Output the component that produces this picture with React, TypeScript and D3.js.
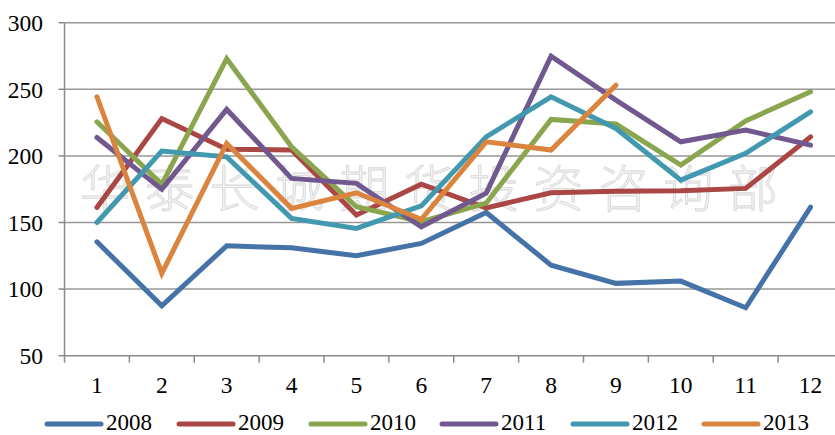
import React from "react";
import * as d3 from "d3";

const months = ["1", "2", "3", "4", "5", "6", "7", "8", "9", "10", "11", "12"];
const yTicks = [50, 100, 150, 200, 250, 300];
const seriesNames = ["2008", "2009", "2010", "2011", "2012", "2013"];
const seriesColors = ["#4572A7", "#AA4643", "#89A54E", "#71588F", "#4198AF", "#DB843D"];

const s2008 = [135.5, 87.5, 132.5, 131, 125, 134.3, 157.5, 118, 104.3, 106, 86, 161.5];
const s2009 = [161.3, 228, 205, 204.5, 155.6, 178.7, 161, 172.3, 173.5, 173.8, 175.6, 214.3];
const s2010 = [225.6, 178.6, 273, 206.8, 161.8, 150.6, 164.5, 227.4, 223.9, 193.1, 226.3, 248.1];
const s2011 = [213.8, 174.9, 234.9, 183.1, 179.4, 146.8, 172, 274.9, 241.9, 210.6, 219.4, 208.1];
const s2012 = [150, 203.6, 199.3, 153.1, 145.6, 162.5, 214.3, 244.4, 220.6, 181.8, 201.9, 233.1];
const s2013 = [244.4, 111.8, 209.4, 160.6, 172.3, 152.4, 210.6, 204.4, 253.1];

const seriesData = [s2008, s2009, s2010, s2011, s2012, s2013];

const W = 835;
const H = 435;
const left = 64.5;
const right = 843;
const top = 22.7;
const bottom = 355.7;

export default function App() {
  const x = d3.scaleBand<string>().domain(months).range([left, right]).padding(0);
  const y = d3.scaleLinear().domain([50, 300]).range([bottom, top]);
  const cx = (i: number) => (x(months[i]) as number) + x.bandwidth() / 2;
  const line = d3
    .line<number>()
    .x((_, i) => cx(i))
    .y((d) => y(d));

  const boundaries = months.map((m) => x(m) as number).concat([right]);
  const serif = { fontFamily: '"Liberation Serif", "DejaVu Serif", serif' };
  const legendX = [47, 179, 311, 442, 573, 704];

  return (
    <svg
      width={W}
      height={H}
      style={{ position: "absolute", left: 0, top: 0, background: "#fff" }}
    >
      <rect x={0} y={0} width={W} height={H} fill="#fff" />
      {yTicks.map((t) => (
        <g key={t}>
          {t !== 50 && (
            <line x1={left} x2={W} y1={y(t)} y2={y(t)} stroke="#979797" strokeWidth={1.5} />
          )}
          <line x1={left - 6} x2={left} y1={y(t)} y2={y(t)} stroke="#8a8a8a" strokeWidth={1.5} />
          <text
            x={43}
            y={y(t)}
            dy="0.35em"
            textAnchor="end"
            style={serif}
            fontSize={23.5}
            fill="#000"
          >
            {t}
          </text>
        </g>
      ))}
      <text
        x={80}
        y={207}
        style={{ fontFamily: '"Noto Sans CJK SC", sans-serif' }}
        fontWeight={300}
        fontSize={50}
        textLength={698}
        lengthAdjust="spacing"
        fill="#f1f1f1"
        stroke="#d6d6d6"
        strokeWidth={0.8}
      >
        华泰长城期货投资咨询部
      </text>
      <line x1={left} x2={left} y1={top} y2={bottom} stroke="#8a8a8a" strokeWidth={1.5} />
      <line x1={left} x2={W} y1={bottom} y2={bottom} stroke="#8a8a8a" strokeWidth={1.5} />
      {boundaries.map((b, i) => (
        <line key={i} x1={b} x2={b} y1={bottom} y2={bottom + 7} stroke="#8a8a8a" strokeWidth={1.5} />
      ))}
      {months.map((m, i) => (
        <text
          key={m}
          x={cx(i)}
          y={385}
          dy="0.35em"
          textAnchor="middle"
          style={serif}
          fontSize={23.5}
          fill="#000"
        >
          {m}
        </text>
      ))}
      {seriesData.map((d, k) => (
        <path
          key={seriesNames[k]}
          d={line(d) || ""}
          fill="none"
          stroke={seriesColors[k]}
          strokeWidth={5}
          strokeLinejoin="miter"
          strokeLinecap="round"
        />
      ))}
      {seriesNames.map((n, k) => (
        <g key={n}>
          <line
            x1={legendX[k]}
            x2={legendX[k] + 54}
            y1={424}
            y2={424}
            stroke={seriesColors[k]}
            strokeWidth={5}
            strokeLinecap="round"
          />
          <text x={legendX[k] + 59} y={429.5} style={serif} fontSize={23} fill="#000">
            {n}
          </text>
        </g>
      ))}
    </svg>
  );
}
